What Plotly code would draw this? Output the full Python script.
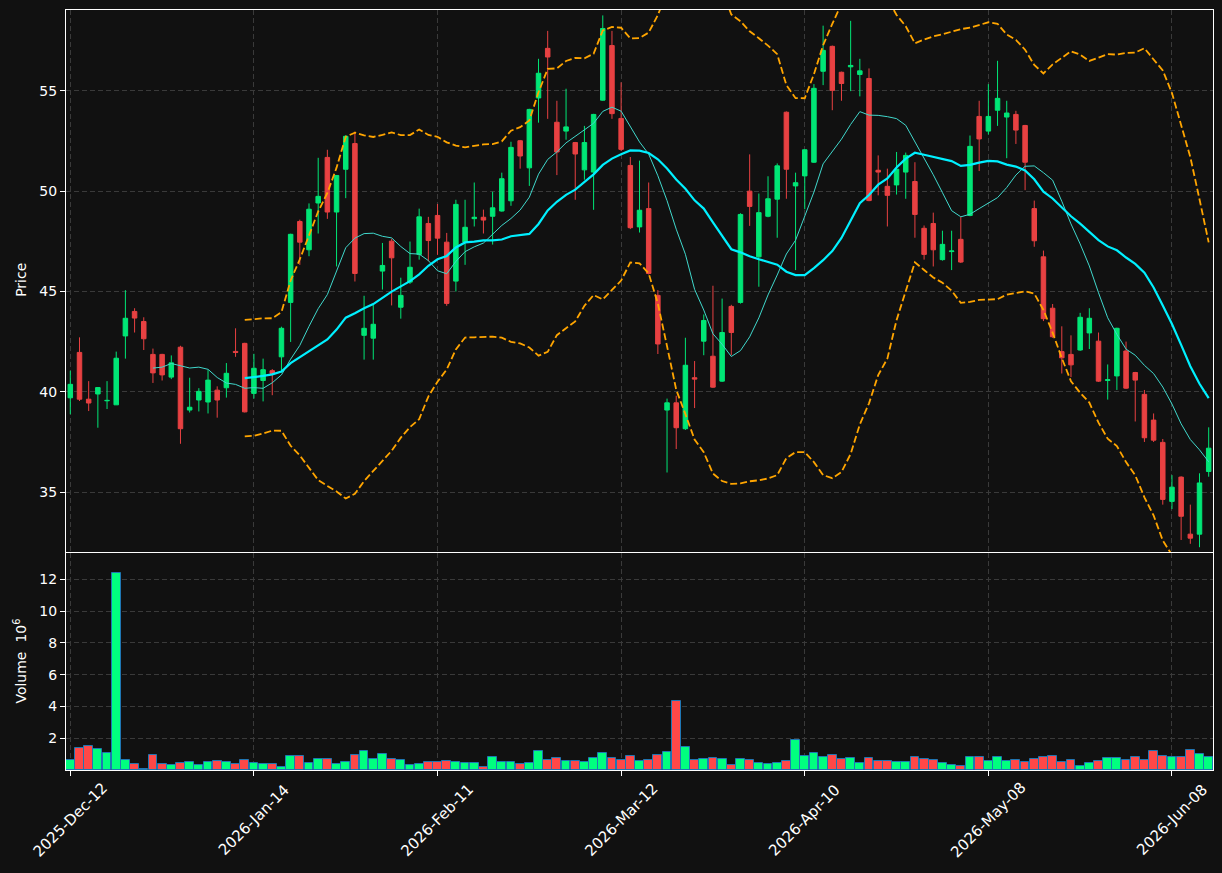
import pandas as pd
import plotly.graph_objects as go

# ---------------- data ----------------
tick_idx = [0, 20, 40, 60, 80, 100, 120]
tick_labels = ["2025-Dec-12", "2026-Jan-14", "2026-Feb-11", "2026-Mar-12",
               "2026-Apr-10", "2026-May-08", "2026-Jun-08"]

opens = [39.71, 41.97, 39.64, 39.90, 39.56, 39.36, 42.79, 44.01, 43.51, 41.87,
         41.87, 40.74, 42.23, 39.10, 39.60, 39.50, 40.09, 40.21, 42.02, 42.42,
         39.93, 40.57, 41.06, 41.75, 44.46, 48.49, 47.08, 49.41, 51.68, 48.96,
         51.09, 52.37, 42.82, 42.68, 46.02, 47.51, 44.22, 45.47, 46.85, 48.39,
         48.79, 47.46, 45.52, 47.46, 48.63, 48.70, 48.75, 49.01, 49.52, 52.51,
         51.16, 54.64, 57.11, 53.43, 52.99, 52.42, 51.06, 50.95, 54.53, 57.25,
         53.62, 51.28, 48.22, 49.13, 44.81, 39.10, 39.46, 38.17, 40.71, 42.53,
         41.78, 40.54, 44.26, 44.46, 50.00, 46.73, 48.75, 49.60, 53.93, 50.26,
         50.76, 51.44, 55.97, 57.21, 55.92, 56.19, 55.81, 55.61, 51.04, 50.24,
         50.31, 50.95, 50.48, 48.15, 48.39, 46.59, 46.99, 47.60, 48.79, 53.72,
         52.99, 54.03, 53.69, 53.82, 53.27, 49.13, 46.73, 44.17, 42.01, 41.87,
         42.09, 42.94, 42.53, 40.57, 40.80, 42.04, 40.97, 39.88, 38.60, 37.49,
         34.55, 35.76, 32.92, 32.92, 36.04]

highs = [41.06, 42.72, 40.54, 40.22, 40.54, 42.01, 45.07, 44.17, 43.72, 42.16,
         41.90, 41.82, 42.30, 40.71, 40.19, 41.09, 40.28, 41.44, 43.17, 42.45,
         41.90, 41.66, 41.14, 43.25, 47.88, 48.58, 49.39, 51.66, 52.06, 50.80,
         52.79, 52.96, 44.79, 44.34, 47.42, 47.63, 45.69, 47.49, 49.13, 48.72,
         49.36, 47.92, 49.57, 49.57, 50.43, 49.08, 49.97, 50.92, 52.46, 52.55,
         54.10, 56.59, 57.98, 54.50, 55.10, 52.45, 53.25, 53.85, 58.75, 57.98,
         55.42, 51.70, 51.52, 50.43, 45.07, 39.67, 39.81, 42.70, 41.54, 43.86,
         45.29, 44.65, 44.34, 48.90, 51.83, 49.88, 50.74, 51.38, 53.97, 50.92,
         52.08, 55.33, 58.24, 57.25, 55.95, 58.48, 56.59, 56.11, 51.78, 51.12,
         51.95, 51.92, 51.44, 48.29, 48.93, 48.03, 48.03, 48.72, 52.77, 54.50,
         55.33, 56.49, 54.50, 54.00, 53.30, 49.53, 47.04, 44.38, 43.27, 42.82,
         43.94, 44.17, 42.96, 41.37, 43.20, 42.51, 41.00, 40.10, 38.93, 37.66,
         35.86, 35.80, 34.39, 35.95, 38.24]

lows = [38.89, 39.55, 39.05, 38.22, 39.15, 39.36, 41.66, 42.96, 42.09, 40.45,
        40.57, 40.64, 37.42, 38.98, 39.03, 38.93, 38.72, 39.72, 41.75, 38.98,
        39.67, 39.53, 39.84, 40.97, 42.49, 46.33, 46.76, 47.89, 48.62, 46.25,
        49.65, 45.50, 41.61, 41.61, 45.10, 44.31, 43.65, 45.38, 46.59, 46.51,
        46.83, 44.29, 45.00, 46.33, 48.24, 47.89, 47.34, 48.98, 49.27, 51.12,
        50.26, 53.41, 53.60, 50.80, 52.56, 49.57, 50.57, 49.07, 54.50, 53.60,
        52.00, 48.11, 47.94, 45.85, 41.89, 35.99, 37.16, 38.11, 39.20, 41.83,
        40.20, 40.50, 41.83, 44.40, 48.27, 45.24, 48.70, 47.68, 49.62, 46.07,
        49.10, 51.40, 55.28, 54.03, 54.50, 54.98, 54.72, 49.50, 49.79, 48.24,
        49.83, 49.62, 47.68, 46.59, 46.25, 46.54, 46.07, 46.42, 48.75, 51.00,
        52.82, 53.25, 51.64, 52.35, 50.05, 47.23, 43.53, 42.70, 40.92, 40.74,
        42.05, 42.14, 40.50, 39.62, 40.10, 40.15, 38.53, 37.51, 37.51, 34.39,
        34.17, 32.63, 32.44, 32.27, 35.78]

closes = [40.38, 39.64, 39.45, 40.22, 39.58, 41.68, 43.67, 43.68, 42.65, 40.95,
          40.85, 41.45, 38.17, 39.24, 40.03, 40.59, 39.60, 40.93, 41.97, 39.01,
          41.18, 41.11, 40.92, 43.17, 47.85, 47.46, 49.10, 49.74, 48.96, 50.78,
          52.73, 45.90, 43.17, 43.37, 46.30, 46.68, 44.81, 46.21, 48.72, 47.54,
          47.66, 44.41, 49.34, 48.20, 48.70, 48.56, 49.17, 50.62, 52.18, 51.75,
          54.07, 55.87, 56.68, 51.95, 53.20, 51.85, 52.42, 53.82, 58.10, 53.86,
          52.08, 48.18, 49.05, 45.90, 42.39, 39.46, 38.22, 41.33, 40.64, 43.56,
          40.24, 42.96, 42.96, 48.84, 49.24, 48.93, 49.62, 51.26, 51.09, 50.42,
          52.06, 55.12, 57.01, 55.02, 55.36, 56.26, 55.99, 49.53, 50.95, 49.79,
          51.09, 51.78, 48.84, 46.85, 47.08, 47.35, 47.02, 46.47, 52.23, 52.60,
          53.72, 54.62, 53.89, 53.04, 51.44, 47.53, 43.65, 42.75, 41.70, 41.35,
          43.72, 43.67, 40.54, 40.61, 43.17, 40.19, 40.59, 37.72, 37.60, 34.65,
          35.26, 33.81, 32.72, 35.47, 37.20]

volume_m = [0.61, 1.36, 1.49, 1.30, 1.09, 12.37, 0.61, 0.36, 0.05, 0.92,
            0.36, 0.29, 0.42, 0.48, 0.29, 0.48, 0.55, 0.48, 0.36, 0.61,
            0.42, 0.36, 0.36, 0.17, 0.86, 0.86, 0.42, 0.67, 0.67, 0.36,
            0.48, 0.92, 1.17, 0.67, 0.99, 0.67, 0.61, 0.29, 0.36, 0.48,
            0.48, 0.55, 0.48, 0.42, 0.42, 0.17, 0.80, 0.48, 0.48, 0.36,
            0.42, 1.17, 0.61, 0.73, 0.55, 0.55, 0.48, 0.73, 1.05, 0.73,
            0.61, 0.86, 0.55, 0.61, 0.92, 1.11, 4.32, 1.43, 0.61, 0.67,
            0.73, 0.67, 0.29, 0.67, 0.61, 0.42, 0.36, 0.42, 0.55, 1.87,
            0.86, 1.05, 0.80, 0.92, 0.67, 0.73, 0.42, 0.73, 0.55, 0.55,
            0.48, 0.48, 0.80, 0.67, 0.61, 0.42, 0.29, 0.23, 0.80, 0.80,
            0.55, 0.80, 0.55, 0.61, 0.48, 0.67, 0.80, 0.86, 0.48, 0.61,
            0.23, 0.42, 0.55, 0.73, 0.73, 0.61, 0.80, 0.61, 1.17, 0.86,
            0.80, 0.80, 1.24, 0.99, 0.80]

price_ticks = [35, 40, 45, 50, 55]
volume_ticks = [2, 4, 6, 8, 10, 12]

# ---------------- derived ----------------
bar_index = list(range(len(closes)))
close_s = pd.Series(closes)
ma10 = close_s.rolling(10).mean()
ma20 = close_s.rolling(20).mean()
sd20 = close_s.rolling(20).std(ddof=0)
bb_up = ma20 + 2 * sd20
bb_lo = ma20 - 2 * sd20

UP_C, DN_C = "#00E676", "#E84142"
VUP_C, VDN_C = "#00FF7F", "#FF4848"
vol_colors = [VUP_C if c >= o else VDN_C for o, c in zip(opens, closes)]

BG = "#111111"
GRID = "#3a3a3a"
FONT = "DejaVu Sans"

fig = go.Figure()

fig.add_trace(go.Candlestick(
    x=bar_index, open=opens, high=highs, low=lows, close=closes,
    xaxis="x", yaxis="y",
    increasing=dict(line=dict(color=UP_C, width=1), fillcolor=UP_C),
    decreasing=dict(line=dict(color=DN_C, width=1), fillcolor=DN_C),
    whiskerwidth=0, showlegend=False, hoverinfo="skip"))

fig.add_trace(go.Scatter(x=bar_index, y=bb_up, mode="lines", xaxis="x", yaxis="y",
                         line=dict(color="#FFA500", width=1.8, dash="7px,3px"),
                         showlegend=False, hoverinfo="skip"))
fig.add_trace(go.Scatter(x=bar_index, y=bb_lo, mode="lines", xaxis="x", yaxis="y",
                         line=dict(color="#FFA500", width=1.8, dash="7px,3px"),
                         showlegend=False, hoverinfo="skip"))
fig.add_trace(go.Scatter(x=bar_index, y=ma10, mode="lines", xaxis="x", yaxis="y",
                         line=dict(color="#40D8CC", width=1),
                         showlegend=False, hoverinfo="skip"))
fig.add_trace(go.Scatter(x=bar_index, y=ma20, mode="lines", xaxis="x", yaxis="y",
                         line=dict(color="#00F0FF", width=2.2),
                         showlegend=False, hoverinfo="skip"))

fig.add_trace(go.Bar(x=bar_index, y=volume_m, xaxis="x2", yaxis="y2", width=0.96,
                     marker=dict(color=vol_colors, line=dict(color="#1f77b4", width=1)),
                     showlegend=False, hoverinfo="skip"))

XR = [-0.47, 124.47]
common_axis = dict(showline=True, mirror=True, linecolor="#ffffff", linewidth=1,
                   zeroline=False, showgrid=True, gridcolor=GRID, griddash="5px,3px",
                   gridwidth=1, tickfont=dict(family=FONT, size=14, color="#ffffff"),
                   tickcolor="#ffffff", ticklen=5)

fig.update_layout(
    width=1222, height=873,
    margin=dict(l=66, r=9, t=10, b=103),
    paper_bgcolor=BG, plot_bgcolor=BG,
    font=dict(family=FONT, size=14, color="#ffffff"),
    bargap=0,
    xaxis=dict(domain=[0, 1], anchor="y", range=XR, tickvals=tick_idx,
               showticklabels=False, ticks="", rangeslider=dict(visible=False),
               **{k: v for k, v in common_axis.items() if k not in ("ticklen",)}),
    yaxis=dict(domain=[0.2868, 1], anchor="x", range=[32.03, 59.02],
               tickvals=price_ticks, ticks="outside", **common_axis),
    xaxis2=dict(domain=[0, 1], anchor="y2", range=XR, tickvals=tick_idx,
                showticklabels=False, ticks="outside", **common_axis),
    yaxis2=dict(domain=[0, 0.2855], anchor="x2", range=[0, 13.65],
                tickvals=volume_ticks, ticks="outside", **common_axis),
)

# rotated date labels (centre-aligned, like matplotlib)
for xi, lab in zip(tick_idx, tick_labels):
    fig.add_annotation(x=xi, xref="x2", y=-0.066, yref="paper", text=lab,
                       textangle=-45, showarrow=False, xanchor="center", yanchor="middle",
                       font=dict(family=FONT, size=15, color="#ffffff"))

fig.add_annotation(x=-0.0392, xref="paper", y=0.645, yref="paper", text="Price",
                   textangle=-90, showarrow=False, xanchor="center", yanchor="middle",
                   font=dict(family=FONT, size=14, color="#ffffff"))
fig.add_annotation(x=-0.0400, xref="paper", y=0.1428, yref="paper",
                   text="Volume  10<sup>6</sup>",
                   textangle=-90, showarrow=False, xanchor="center", yanchor="middle",
                   font=dict(family=FONT, size=14, color="#ffffff"))

fig.write_html("out.html")
